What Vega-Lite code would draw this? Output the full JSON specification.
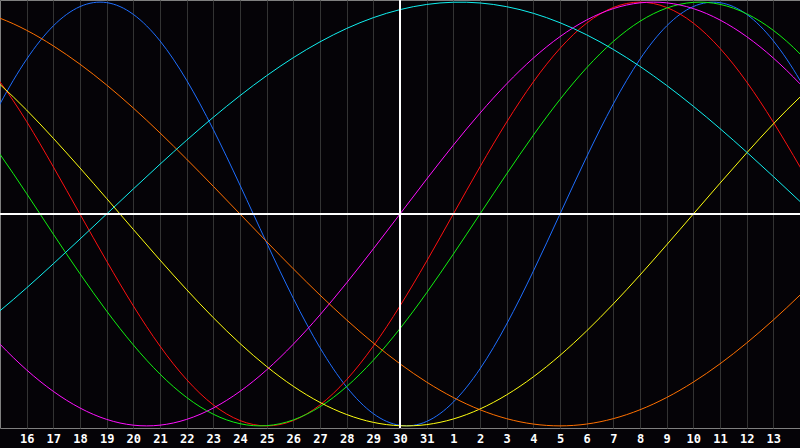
{
  "$schema": "https://vega.github.io/schema/vega-lite/v6.json",
  "description": "Biorhythm cycles over 30 days",
  "width": 800,
  "height": 428,
  "autosize": "none",
  "padding": {"left": 0, "top": 0, "right": 0, "bottom": 20},
  "background": "#050307",
  "config": {
    "view": {"stroke": "#7f7f7f", "fill": "#050307"},
    "axis": {"labelFont": "DejaVu Sans Mono", "labelFontWeight": "bold", "labelFontSize": 12, "labelColor": "#ffffff"}
  },
  "data": {
    "values": [
      {"cycle": "physical", "day": -2, "v": 0},
      {"cycle": "physical", "day": 0, "v": 0.5196},
      {"cycle": "physical", "day": 2, "v": 0.8879},
      {"cycle": "physical", "day": 4, "v": 0.9977},
      {"cycle": "physical", "day": 6, "v": 0.817},
      {"cycle": "physical", "day": 8, "v": 0.3984},
      {"cycle": "physical", "day": 10, "v": -0.1362},
      {"cycle": "physical", "day": 12, "v": -0.6311},
      {"cycle": "physical", "day": 14, "v": -0.9423},
      {"cycle": "physical", "day": 16, "v": -0.9791},
      {"cycle": "physical", "day": 18, "v": -0.7309},
      {"cycle": "physical", "day": 20, "v": -0.2698},
      {"cycle": "physical", "day": 22, "v": 0.2698},
      {"cycle": "physical", "day": 24, "v": 0.7309},
      {"cycle": "physical", "day": 26, "v": 0.9791},
      {"cycle": "physical", "day": 28, "v": 0.9423},
      {"cycle": "physical", "day": 30, "v": 0.6311},
      {"cycle": "physical", "day": 32, "v": 0.1362},

      {"cycle": "emotional", "day": -2, "v": 0.901},
      {"cycle": "emotional", "day": 0, "v": 0.6235},
      {"cycle": "emotional", "day": 2, "v": 0.2225},
      {"cycle": "emotional", "day": 4, "v": -0.2225},
      {"cycle": "emotional", "day": 6, "v": -0.6235},
      {"cycle": "emotional", "day": 8, "v": -0.901},
      {"cycle": "emotional", "day": 10, "v": -1},
      {"cycle": "emotional", "day": 12, "v": -0.901},
      {"cycle": "emotional", "day": 14, "v": -0.6235},
      {"cycle": "emotional", "day": 16, "v": -0.2225},
      {"cycle": "emotional", "day": 18, "v": 0.2225},
      {"cycle": "emotional", "day": 20, "v": 0.6235},
      {"cycle": "emotional", "day": 22, "v": 0.901},
      {"cycle": "emotional", "day": 24, "v": 1},
      {"cycle": "emotional", "day": 26, "v": 0.901},
      {"cycle": "emotional", "day": 28, "v": 0.6235},
      {"cycle": "emotional", "day": 30, "v": 0.2225},
      {"cycle": "emotional", "day": 32, "v": -0.2225},

      {"cycle": "intellectual", "day": -2, "v": 0.6182},
      {"cycle": "intellectual", "day": 0, "v": 0.2817},
      {"cycle": "intellectual", "day": 2, "v": -0.0951},
      {"cycle": "intellectual", "day": 4, "v": -0.4582},
      {"cycle": "intellectual", "day": 6, "v": -0.7557},
      {"cycle": "intellectual", "day": 8, "v": -0.945},
      {"cycle": "intellectual", "day": 10, "v": -0.9989},
      {"cycle": "intellectual", "day": 12, "v": -0.9096},
      {"cycle": "intellectual", "day": 14, "v": -0.6901},
      {"cycle": "intellectual", "day": 16, "v": -0.3717},
      {"cycle": "intellectual", "day": 18, "v": 0},
      {"cycle": "intellectual", "day": 20, "v": 0.3717},
      {"cycle": "intellectual", "day": 22, "v": 0.6901},
      {"cycle": "intellectual", "day": 24, "v": 0.9096},
      {"cycle": "intellectual", "day": 26, "v": 0.9989},
      {"cycle": "intellectual", "day": 28, "v": 0.945},
      {"cycle": "intellectual", "day": 30, "v": 0.7557},
      {"cycle": "intellectual", "day": 32, "v": 0.4582},

      {"cycle": "intuitive", "day": -2, "v": -0.3247},
      {"cycle": "intuitive", "day": 0, "v": -0.6142},
      {"cycle": "intuitive", "day": 2, "v": -0.8372},
      {"cycle": "intuitive", "day": 4, "v": -0.9694},
      {"cycle": "intuitive", "day": 6, "v": -0.9966},
      {"cycle": "intuitive", "day": 8, "v": -0.9157},
      {"cycle": "intuitive", "day": 10, "v": -0.7358},
      {"cycle": "intuitive", "day": 12, "v": -0.476},
      {"cycle": "intuitive", "day": 14, "v": -0.1646},
      {"cycle": "intuitive", "day": 16, "v": 0.1646},
      {"cycle": "intuitive", "day": 18, "v": 0.476},
      {"cycle": "intuitive", "day": 20, "v": 0.7358},
      {"cycle": "intuitive", "day": 22, "v": 0.9157},
      {"cycle": "intuitive", "day": 24, "v": 0.9966},
      {"cycle": "intuitive", "day": 26, "v": 0.9694},
      {"cycle": "intuitive", "day": 28, "v": 0.8372},
      {"cycle": "intuitive", "day": 30, "v": 0.6142},
      {"cycle": "intuitive", "day": 32, "v": 0.3247},

      {"cycle": "aesthetic", "day": -2, "v": 0.8133},
      {"cycle": "aesthetic", "day": 0, "v": 0.6112},
      {"cycle": "aesthetic", "day": 2, "v": 0.3573},
      {"cycle": "aesthetic", "day": 4, "v": 0.073},
      {"cycle": "aesthetic", "day": 6, "v": -0.2174},
      {"cycle": "aesthetic", "day": 8, "v": -0.4894},
      {"cycle": "aesthetic", "day": 10, "v": -0.7199},
      {"cycle": "aesthetic", "day": 12, "v": -0.8893},
      {"cycle": "aesthetic", "day": 14, "v": -0.9834},
      {"cycle": "aesthetic", "day": 16, "v": -0.994},
      {"cycle": "aesthetic", "day": 18, "v": -0.9203},
      {"cycle": "aesthetic", "day": 20, "v": -0.7686},
      {"cycle": "aesthetic", "day": 22, "v": -0.5517},
      {"cycle": "aesthetic", "day": 24, "v": -0.2881},
      {"cycle": "aesthetic", "day": 26, "v": 0},
      {"cycle": "aesthetic", "day": 28, "v": 0.2881},
      {"cycle": "aesthetic", "day": 30, "v": 0.5517},
      {"cycle": "aesthetic", "day": 32, "v": 0.7686},

      {"cycle": "awareness", "day": -2, "v": 0.9914},
      {"cycle": "awareness", "day": 0, "v": 0.9239},
      {"cycle": "awareness", "day": 2, "v": 0.7934},
      {"cycle": "awareness", "day": 4, "v": 0.6088},
      {"cycle": "awareness", "day": 6, "v": 0.3827},
      {"cycle": "awareness", "day": 8, "v": 0.1305},
      {"cycle": "awareness", "day": 10, "v": -0.1305},
      {"cycle": "awareness", "day": 12, "v": -0.3827},
      {"cycle": "awareness", "day": 14, "v": -0.6088},
      {"cycle": "awareness", "day": 16, "v": -0.7934},
      {"cycle": "awareness", "day": 18, "v": -0.9239},
      {"cycle": "awareness", "day": 20, "v": -0.9914},
      {"cycle": "awareness", "day": 22, "v": -0.9914},
      {"cycle": "awareness", "day": 24, "v": -0.9239},
      {"cycle": "awareness", "day": 26, "v": -0.7934},
      {"cycle": "awareness", "day": 28, "v": -0.6088},
      {"cycle": "awareness", "day": 30, "v": -0.3827},
      {"cycle": "awareness", "day": 32, "v": -0.1305},

      {"cycle": "spiritual", "day": -2, "v": -0.6529},
      {"cycle": "spiritual", "day": 0, "v": -0.4566},
      {"cycle": "spiritual", "day": 2, "v": -0.2349},
      {"cycle": "spiritual", "day": 4, "v": 0},
      {"cycle": "spiritual", "day": 6, "v": 0.2349},
      {"cycle": "spiritual", "day": 8, "v": 0.4566},
      {"cycle": "spiritual", "day": 10, "v": 0.6529},
      {"cycle": "spiritual", "day": 12, "v": 0.8125},
      {"cycle": "spiritual", "day": 14, "v": 0.9267},
      {"cycle": "spiritual", "day": 16, "v": 0.989},
      {"cycle": "spiritual", "day": 18, "v": 0.996},
      {"cycle": "spiritual", "day": 20, "v": 0.9473},
      {"cycle": "spiritual", "day": 22, "v": 0.8456},
      {"cycle": "spiritual", "day": 24, "v": 0.6966},
      {"cycle": "spiritual", "day": 26, "v": 0.5085},
      {"cycle": "spiritual", "day": 28, "v": 0.2921},
      {"cycle": "spiritual", "day": 30, "v": 0.0592},
      {"cycle": "spiritual", "day": 32, "v": -0.1769}
    ]
  },
  "encoding": {
    "x": {
      "field": "day",
      "type": "quantitative",
      "scale": {"domain": [0, 30], "nice": false, "zero": false},
      "axis": {
        "title": null,
        "values": [1, 2, 3, 4, 5, 6, 7, 8, 9, 10, 11, 12, 13, 14, 15, 16, 17, 18, 19, 20, 21, 22, 23, 24, 25, 26, 27, 28, 29],
        "labelExpr": "((datum.value + 14) % 31) + 1",
        "domain": false,
        "ticks": false,
        "grid": true,
        "gridColor": "#333333",
        "gridWidth": 1,
        "labelPadding": 5,
        "labelFlush": false
      }
    },
    "y": {
      "field": "v",
      "type": "quantitative",
      "scale": {"domain": [-1.01, 1.01], "nice": false, "zero": false},
      "axis": null
    }
  },
  "layer": [
    {
      "mark": {"type": "line", "clip": true, "interpolate": "natural", "strokeWidth": 1},
      "encoding": {
        "color": {
          "field": "cycle",
          "type": "nominal",
          "legend": null,
          "scale": {
            "domain": ["physical", "emotional", "intellectual", "intuitive", "aesthetic", "awareness", "spiritual"],
            "range": ["#1e6eff", "#ff1010", "#10f010", "#ff10ff", "#ffff10", "#ff7000", "#10f0f0"]
          }
        }
      }
    },
    {
      "mark": {"type": "rule", "color": "#ffffff", "strokeWidth": 1},
      "encoding": {"y": {"datum": 0}, "x": {}}
    },
    {
      "mark": {"type": "rule", "color": "#ffffff", "strokeWidth": 1},
      "encoding": {"x": {"datum": 15}, "y": {}}
    }
  ]
}
